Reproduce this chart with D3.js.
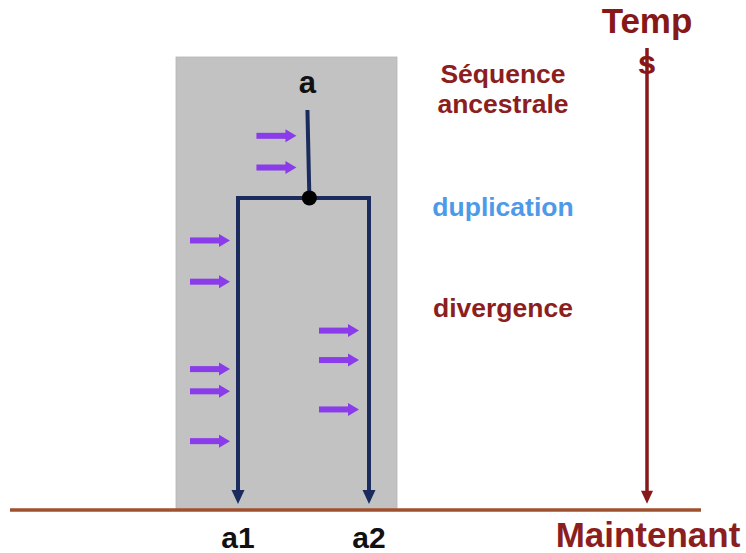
<!DOCTYPE html>
<html><head><meta charset="utf-8">
<script src="https://cdn.jsdelivr.net/npm/d3@7"></script>
<style>body{margin:0;background:#fff}svg{display:block}text{font-family:"Liberation Sans",Arial,sans-serif;font-weight:bold}</style>
</head><body>
<script>
// time units: 0 = top of grey box, 100 = present (baseline)
const lineages = ["a1", "a2"];
const lineageX = [0, 100];           // horizontal position units
const ancestorX = [53, 54.5];        // ancestor stem top/bottom
const ancestorStart = 11.7;
const duplicationTime = 31.1;
const mutationsAncestor = [17.4, 24.4];
const mutationsA1 = [40.5, 49.6, 68.9, 73.8, 84.8];
const mutationsA2 = [60.4, 66.9, 77.8];
const stageLabels = ["Séquence", "ancestrale", "duplication", "divergence"];
const stageTimes = [5.7, 12.3, 35.0, 57.5];

const W = 746, H = 553;
const svg = d3.select("body").append("svg").attr("width", W).attr("height", H);
const y = d3.scaleLinear().domain([0, 100]).range([57, 510]);
const x = d3.scaleLinear().domain([0, 100]).range([238, 369]);

const navy = "#1b2b5e", purple = "#8a3bea", brown = "#a0502e", dred = "#861818";

// grey box
svg.append("rect").attr("x", 176).attr("y", y(0)).attr("width", 221).attr("height", y(100) - y(0))
  .attr("fill", "#c2c2c2").attr("stroke", "#b4b4b4").attr("stroke-width", 0.8);

// baseline
svg.append("line").attr("x1", 10).attr("x2", 701).attr("y1", y(100)).attr("y2", y(100))
  .attr("stroke", brown).attr("stroke-width", 3.5);

// tree
svg.append("line").attr("x1", x(ancestorX[0])).attr("y1", y(ancestorStart)).attr("x2", x(ancestorX[1])).attr("y2", y(duplicationTime))
  .attr("stroke", navy).attr("stroke-width", 4);
svg.append("line").attr("x1", x(lineageX[0]) - 2).attr("x2", x(lineageX[1]) + 2).attr("y1", y(duplicationTime)).attr("y2", y(duplicationTime))
  .attr("stroke", navy).attr("stroke-width", 4);
const tip = y(98.7);
svg.selectAll(".branch").data(lineageX).join("line").attr("class", "branch")
  .attr("x1", d => x(d)).attr("x2", d => x(d)).attr("y1", y(duplicationTime)).attr("y2", tip - 10)
  .attr("stroke", navy).attr("stroke-width", 4);
svg.selectAll(".bhead").data(lineageX).join("path").attr("class", "bhead")
  .attr("d", d => `M${x(d) - 6.5},${tip - 14}L${x(d) + 6.5},${tip - 14}L${x(d)},${tip}Z`).attr("fill", navy);
svg.append("circle").attr("cx", x(ancestorX[1])).attr("cy", y(duplicationTime)).attr("r", 7.5).attr("fill", "#000");

// mutation arrows
function muts(arr, xEnd) {
  const g = svg.append("g");
  g.selectAll("line").data(arr).join("line")
    .attr("x1", xEnd - 40).attr("x2", xEnd - 9).attr("y1", d => y(d)).attr("y2", d => y(d))
    .attr("stroke", purple).attr("stroke-width", 6);
  g.selectAll("path").data(arr).join("path")
    .attr("d", d => `M${xEnd - 11},${y(d) - 6.5}L${xEnd},${y(d)}L${xEnd - 11},${y(d) + 6.5}Z`).attr("fill", purple);
}
muts(mutationsAncestor, x(ancestorX[0]) - 11);
muts(mutationsA1, x(lineageX[0]) - 8);
muts(mutationsA2, x(lineageX[1]) - 10);

// node labels
svg.append("text").attr("x", x(ancestorX[0])).attr("y", 93).attr("text-anchor", "middle").attr("font-size", 31).attr("fill", "#111").text("a");
svg.selectAll(".lab").data(lineages).join("text").attr("class", "lab")
  .attr("x", (d, i) => x(lineageX[i])).attr("y", 548).attr("text-anchor", "middle").attr("font-size", 30).attr("fill", "#111").text(d => d);

// stage labels
svg.selectAll(".stage").data(stageLabels).join("text").attr("class", "stage")
  .attr("x", 503).attr("y", (d, i) => y(stageTimes[i])).attr("text-anchor", "middle").attr("font-size", 26.5)
  .attr("fill", (d, i) => i === 2 ? "#4d9ae8" : "#8b1e1e").text(d => d);

// time axis
svg.append("line").attr("x1", 647).attr("x2", 647).attr("y1", 48).attr("y2", y(98.6) - 10)
  .attr("stroke", dred).attr("stroke-width", 3.5);
svg.append("path").attr("d", `M641,${y(98.6) - 13}L653,${y(98.6) - 13}L647,${y(98.6)}Z`).attr("fill", dred);
svg.append("text").attr("x", 647).attr("y", 33).attr("text-anchor", "middle").attr("font-size", 35).attr("fill", dred).text("Temp");
svg.append("text").attr("x", 647).attr("y", 74).attr("text-anchor", "middle").attr("font-size", 33).attr("fill", dred).text("s");
svg.append("text").attr("x", 648).attr("y", 547).attr("text-anchor", "middle").attr("font-size", 35).attr("fill", "#8b1e1e").text("Maintenant");
</script>
</body></html>
